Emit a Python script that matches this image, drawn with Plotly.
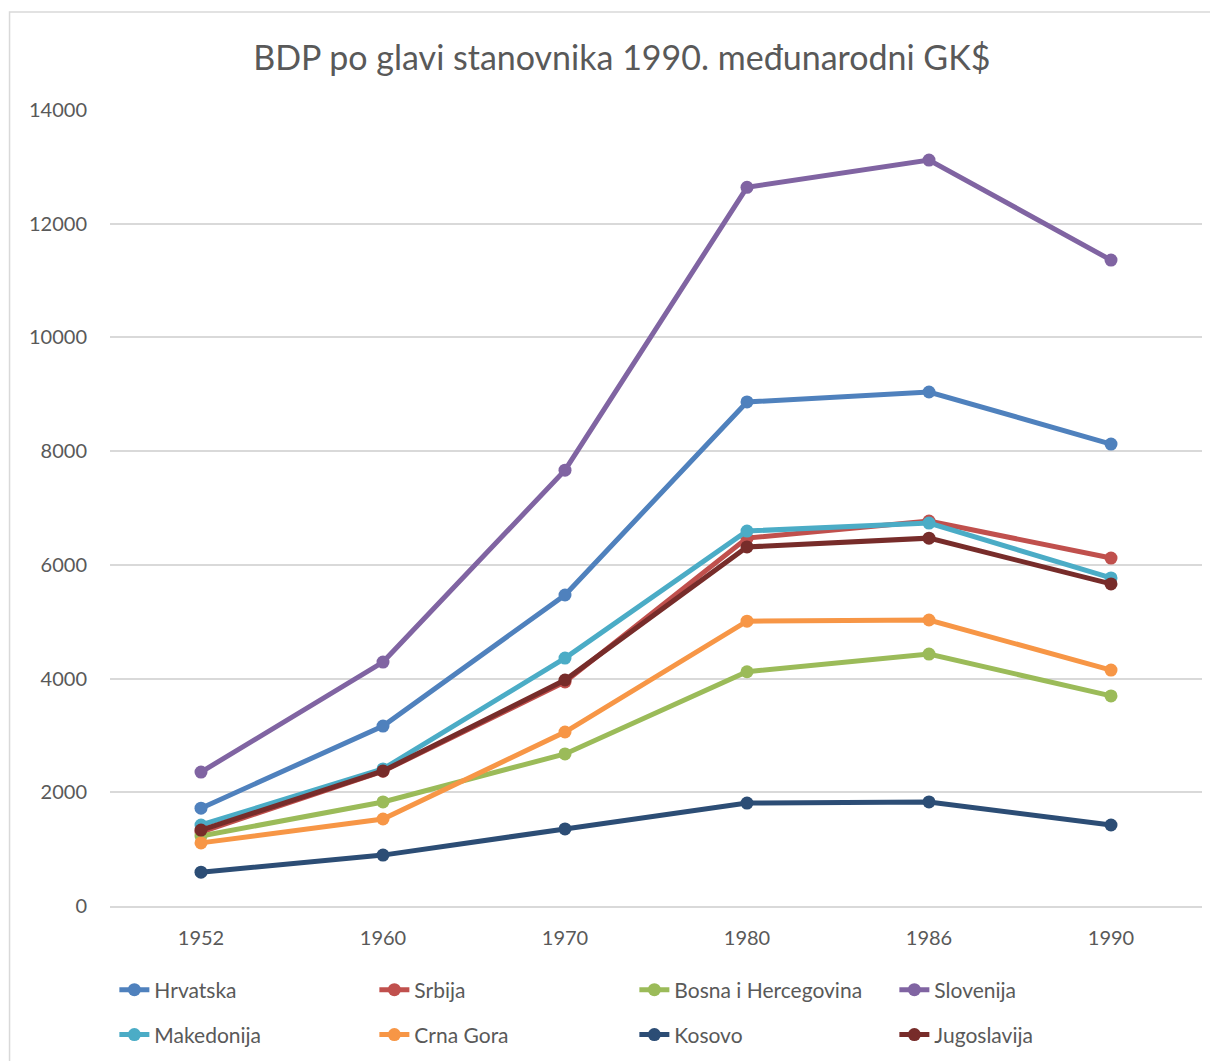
import plotly.graph_objects as go

years = ["1952", "1960", "1970", "1980", "1986", "1990"]
y_ticks = [0, 2000, 4000, 6000, 8000, 10000, 12000, 14000]
y_tick_labels = ["0", "2000", "4000", "6000", "8000", "10000", "12000", "14000"]

hrvatska = [1720, 3165, 5470, 8865, 9040, 8125]
srbija = [1300, 2370, 3940, 6470, 6770, 6120]
bosna = [1230, 1830, 2675, 4120, 4430, 3695]
slovenija = [2355, 4290, 7665, 12640, 13120, 11360]
makedonija = [1425, 2410, 4360, 6595, 6735, 5770]
crna_gora = [1110, 1530, 3060, 5010, 5030, 4150]
kosovo = [595, 895, 1355, 1810, 1830, 1425]
jugoslavija = [1335, 2375, 3975, 6315, 6470, 5665]

series = [
    ("Hrvatska", hrvatska, "#4F81BD", "legend"),
    ("Srbija", srbija, "#C0504D", "legend"),
    ("Bosna i Hercegovina", bosna, "#9BBB59", "legend"),
    ("Slovenija", slovenija, "#8064A2", "legend"),
    ("Makedonija", makedonija, "#4BACC6", "legend2"),
    ("Crna Gora", crna_gora, "#F79646", "legend2"),
    ("Kosovo", kosovo, "#2C4D75", "legend2"),
    ("Jugoslavija", jugoslavija, "#772C2A", "legend2"),
]

FONT = "Lato, 'Open Sans', sans-serif"

fig = go.Figure()
for name, vals, color, lg in series:
    fig.add_trace(go.Scatter(
        x=years, y=vals, name=name, mode="lines+markers",
        line=dict(color=color, width=5),
        marker=dict(color=color, size=13),
        legend=lg,
    ))

legend_common = dict(orientation="h", x=0.004, xanchor="left", yanchor="middle",
                     entrywidth=215, entrywidthmode="pixels",
                     font=dict(family=FONT, size=21, color="#595959"),
                     bgcolor="rgba(0,0,0,0)")

fig.update_layout(
    width=1218, height=1061,
    paper_bgcolor="white", plot_bgcolor="white",
    margin=dict(l=102, r=24, t=102, b=163, autoexpand=False),
    title=dict(text="BDP po glavi stanovnika 1990. međunarodni GK$",
               x=0.504, xanchor="center", y=0.953, yanchor="middle",
               font=dict(family=FONT, size=34, color="#595959")),
    font=dict(family=FONT, color="#595959", size=20),
    showlegend=True,
    legend=dict(y=-0.1055, **legend_common),
    legend2=dict(y=-0.162, **legend_common),
    xaxis=dict(type="category", range=[-0.5, 5.5], showgrid=False,
               showline=True, linecolor="#D9D9D9", linewidth=1.5,
               ticks="", ticklabelstandoff=13, automargin=False,
               tickfont=dict(size=20, color="#595959"), fixedrange=True),
    yaxis=dict(range=[0, 14000], tickvals=y_ticks, ticktext=y_tick_labels,
               showgrid=True, gridcolor="#D9D9D9", gridwidth=1.5, zeroline=True,
               zerolinecolor="#D9D9D9", zerolinewidth=1.5,
               showline=False, ticks="", ticklabelstandoff=22, automargin=False,
               tickfont=dict(size=20, color="#595959"), fixedrange=True),
    shapes=[dict(type="rect", xref="paper", yref="paper",
                 x0=-0.092, x1=1.03, y0=-0.3, y1=1.1231,
                 line=dict(color="#D9D9D9", width=1.5), fillcolor="rgba(0,0,0,0)")],
)

fig.write_html("out.html")
